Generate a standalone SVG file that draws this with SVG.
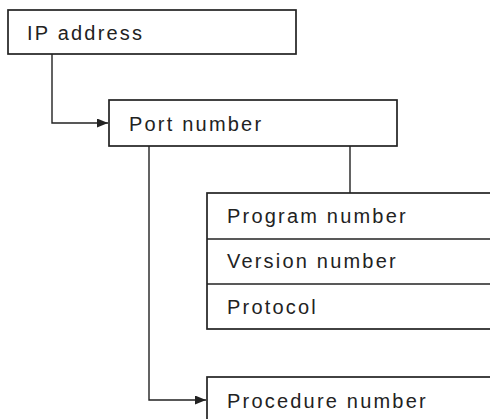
<svg xmlns="http://www.w3.org/2000/svg" width="490" height="419" viewBox="0 0 490 419">
<defs>
<marker id="arr" markerWidth="11" markerHeight="9" refX="11" refY="4.5" orient="auto" markerUnits="userSpaceOnUse">
<path d="M0,0 L11,4.5 L0,9 Z" fill="#222"/>
</marker>
<style>
.box{fill:#fff;stroke:#222;stroke-width:1.7}
.line{fill:none;stroke:#222;stroke-width:1.4}
.t{font-family:"Liberation Sans",Arial,sans-serif;font-size:20px;letter-spacing:2.2px;fill:#222}
</style>
</defs>
<rect width="490" height="419" fill="#fff"/>
<g id="connectors">
<path class="line" d="M52,54 V123 H108" marker-end="url(#arr)"/>
<path class="line" d="M350,146 V193"/>
<path class="line" d="M149,146 V400 H206" marker-end="url(#arr)"/>
</g>
<g id="ip">
<rect class="box" x="8" y="10" width="288" height="44"/>
<text class="t" x="27" y="40">IP address</text>
</g>
<g id="port">
<rect class="box" x="109" y="100" width="288" height="46"/>
<text class="t" x="129" y="131">Port number</text>
</g>
<g id="rpc">
<rect class="box" x="207" y="193" width="290" height="136"/>
<line class="box" x1="207" y1="239" x2="490" y2="239"/>
<line class="box" x1="207" y1="284" x2="490" y2="284"/>
<text class="t" x="227" y="223">Program number</text>
<text class="t" x="227" y="268">Version number</text>
<text class="t" x="227" y="314">Protocol</text>
</g>
<g id="procedure">
<rect class="box" x="207" y="377" width="290" height="60"/>
<text class="t" x="227" y="408">Procedure number</text>
</g>
</svg>
